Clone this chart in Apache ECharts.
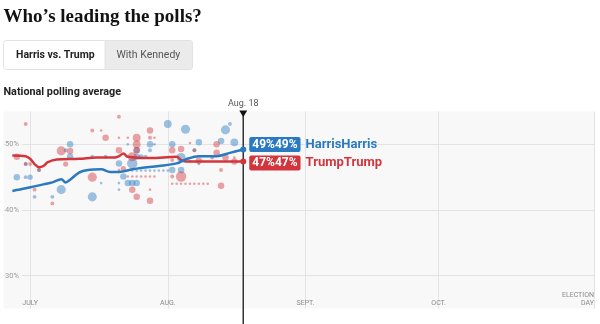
<!DOCTYPE html>
<html><head><meta charset="utf-8">
<script src="https://cdn.jsdelivr.net/npm/echarts@6/dist/echarts.min.js"></script>
<style>html,body{margin:0;padding:0;background:#fff}#c{width:600px;height:324px}</style>
</head><body><div id="c"></div>
<script>
// ---- data ----
const xTickDates = ['2024-07-01','2024-08-01','2024-09-01','2024-10-01','2024-11-05'];
const xTickLabels = ['JULY','AUG.','SEPT.','OCT.','ELECTION\nDAY'];
const yTicks = [30, 40, 50];
const xMinDate = '2024-06-25';
const xMaxDate = '2024-11-05';
const todayDate = '2024-08-18';
const todayLabel = 'Aug. 18';

const harrisAvgDates = ['2024-06-27','2024-06-30','2024-07-02','2024-07-04','2024-07-06','2024-07-08','2024-07-09','2024-07-10','2024-07-12','2024-07-14','2024-07-17','2024-07-19','2024-07-21','2024-07-24','2024-07-26','2024-07-30','2024-08-03','2024-08-05','2024-08-08','2024-08-12','2024-08-15','2024-08-18'];
const harrisAvgValues = [42.9,43.3,43.6,43.9,44.2,44.7,44.2,44.6,45.7,46.1,46.2,45.8,45.8,46.2,46.4,46.7,47.1,47.7,48.2,48.2,48.7,49.2];

const trumpAvgDates = ['2024-06-27','2024-06-30','2024-07-01','2024-07-02','2024-07-03','2024-07-04','2024-07-05','2024-07-07','2024-07-12','2024-07-16','2024-07-20','2024-07-21','2024-07-22','2024-07-23','2024-07-28','2024-08-03','2024-08-04','2024-08-05','2024-08-18'];
const trumpAvgValues = [48.3,48.2,47.8,47.0,46.5,46.7,47.3,47.7,47.8,48.0,48.0,48.2,48.6,48.1,47.9,48.1,47.6,47.4,47.4];

const harrisEndLabel = ['49%49%', 'HarrisHarris'];
const trumpEndLabel = ['47%47%', 'TrumpTrump'];

// individual polls: [date, value, weight]
const harrisPolls = [
 ['2024-06-28',45.0,5],['2024-06-30',45.0,3],['2024-06-30',47.0,3],['2024-07-01',45.0,4],
 ['2024-07-02',42.0,3],['2024-07-03',46.1,3],['2024-07-06',42.0,3],['2024-07-08',43.1,7],
 ['2024-07-09',49.1,3],['2024-07-10',50.0,5],['2024-07-10',48.1,5],['2024-07-15',42.0,7],
 ['2024-07-15',48.1,3],['2024-07-17',44.1,2],['2024-07-18',48.1,3],['2024-07-21',47.1,5],
 ['2024-07-21',44.1,2],['2024-07-21',43.1,2],['2024-07-22',45.1,5],['2024-07-23',50.0,2],
 ['2024-07-23',48.1,2],['2024-07-23',44.1,5],['2024-07-24',47.1,8],['2024-07-24',44.1,5],
 ['2024-07-25',44.1,5],['2024-07-25',49.1,5],['2024-07-25',48.1,5],['2024-07-26',48.1,4],
 ['2024-07-27',48.1,3],['2024-07-28',50.0,5],['2024-07-28',49.1,3],['2024-07-29',50.0,2],
 ['2024-08-01',53.1,6],['2024-08-02',50.0,5],['2024-08-02',46.1,5],['2024-08-04',48.0,7],
 ['2024-08-04',46.1,5],['2024-08-05',52.3,7],['2024-08-07',49.1,3],['2024-08-08',50.3,5],
 ['2024-08-08',47.0,2],['2024-08-13',50.5,5],['2024-08-14',52.2,7],['2024-08-15',53.1,3],
 ['2024-08-16',50.3,6],
 ['2024-07-24',46.0,2],['2024-07-25',46.0,2],['2024-07-26',46.0,2],['2024-07-27',46.0,2],
 ['2024-07-28',46.0,2],['2024-07-29',46.0,2],['2024-07-30',46.0,2],['2024-07-31',46.0,2],
 ['2024-08-01',46.0,2]
];
const trumpPolls = [
 ['2024-06-28',48.1,5],['2024-06-30',53.1,3],['2024-06-30',47.0,3],['2024-07-01',47.0,3],
 ['2024-07-02',43.1,3],['2024-07-03',46.1,3],['2024-07-06',41.0,3],['2024-07-08',49.0,7],
 ['2024-07-09',47.0,4],['2024-07-10',49.0,5],['2024-07-15',52.1,3],['2024-07-15',45.0,7],
 ['2024-07-17',52.1,2],['2024-07-18',51.0,5],['2024-07-21',54.2,3],['2024-07-21',51.0,2],
 ['2024-07-21',49.1,5],['2024-07-21',46.1,2],['2024-07-22',46.3,4],['2024-07-23',51.0,2],
 ['2024-07-24',48.1,7],['2024-07-24',43.1,5],['2024-07-25',51.0,6],['2024-07-25',50.0,6],
 ['2024-07-25',49.1,5],['2024-07-25',42.0,5],['2024-07-28',52.1,5],['2024-07-28',51.0,3],
 ['2024-07-28',43.1,2],['2024-07-28',41.4,5],['2024-07-29',51.0,2],['2024-08-02',49.1,5],
 ['2024-08-02',47.6,3],['2024-08-02',45.1,3],['2024-08-04',49.3,5],['2024-08-04',45.1,8],
 ['2024-08-06',50.2,2],['2024-08-06',47.4,2],['2024-08-07',49.1,3],['2024-08-08',47.5,5],
 ['2024-08-11',48.0,3],['2024-08-12',50.0,5],['2024-08-12',48.7,5],['2024-08-13',46.1,3],
 ['2024-08-13',43.7,5],['2024-08-14',48.0,5],['2024-08-16',48.0,2],['2024-08-16',47.4,5],
 ['2024-07-23',45.1,2],['2024-07-24',45.1,2],['2024-07-25',45.1,2],['2024-07-26',45.1,2],
 ['2024-07-27',45.1,2],['2024-07-28',45.1,2],['2024-07-29',45.1,2],
 ['2024-08-02',44.0,2],['2024-08-03',44.0,2],['2024-08-04',44.0,2],['2024-08-05',44.0,2],
 ['2024-08-06',44.0,2],['2024-08-07',44.0,2],['2024-08-08',44.0,2],['2024-08-09',44.0,2],
 ['2024-08-10',44.0,2]
];

// ---- helpers ----
function dayIndex(s){const p=s.split('-').map(Number);return (Date.UTC(p[0],p[1]-1,p[2])-Date.UTC(2024,6,1))/86400000;}
const BLUE='#2b79c0', RED='#d2363c';
const SANS='Roboto, "Liberation Sans", sans-serif';
const tickVals = xTickDates.map(dayIndex);
const labelMap = {}; tickVals.forEach((v,i)=>labelMap[v]=xTickLabels[i]);

function lineData(dates, vals){
  return dates.map((d,i)=>{
    const item={value:[dayIndex(d), vals[i]]};
    if(i===dates.length-1){item.symbol='circle';item.symbolSize=6;}
    return item;
  });
}
function pollData(arr){return arr.map(p=>[dayIndex(p[0]),p[1],p[2]]);}
function endLabel(color, txt, offY){
  return {show:true, distance:6, offset:[0,offY],
    formatter:'{box|'+txt[0]+'}{name|'+txt[1]+'}',
    rich:{
      box:{backgroundColor:color,color:'#fff',fontFamily:SANS,fontWeight:'bold',fontSize:12,padding:[2,3,1,3],borderRadius:2},
      name:{color:color,fontFamily:SANS,fontWeight:'bold',fontSize:13,padding:[0,0,0,5]}
    }};
}

const chart = echarts.init(document.getElementById('c'), null, {renderer:'canvas'});
const option = {
  animation:false,
  grid:{left:3.5, right:6, top:111.5, bottom:15.5, show:true, backgroundColor:'#f8f8f8', borderWidth:0, containLabel:false},
  xAxis:{type:'value', min:dayIndex(xMinDate), max:dayIndex(xMaxDate),
    axisLine:{show:false},
    axisTick:{show:false, customValues:tickVals},
    splitLine:{show:true, lineStyle:{color:'#e3e3e3', width:1}},
    axisLabel:{show:true, inside:true, margin:1.5, customValues:tickVals, color:'#8a8a8a', fontFamily:SANS, fontSize:7, lineHeight:8,
      alignMaxLabel:'right', formatter:v=>labelMap[v]||''}
  },
  yAxis:{type:'value', min:25, max:55,
    axisLine:{show:false},
    axisTick:{show:false, customValues:yTicks},
    splitLine:{show:true, lineStyle:{color:'#e3e3e3', width:1}},
    axisLabel:{show:true, inside:true, margin:1.5, customValues:yTicks, color:'#9a9a9a', fontFamily:SANS, fontSize:7.5,
      backgroundColor:'#f8f8f8', padding:[1,3,1,0], formatter:'{value}%'}
  },
  series:[
    {type:'scatter', data:pollData(harrisPolls), symbolSize:d=>d[2]*1.3, itemStyle:{color:BLUE, opacity:0.45}, z:2, silent:true},
    {type:'scatter', data:pollData(trumpPolls), symbolSize:d=>d[2]*1.3, itemStyle:{color:RED, opacity:0.45}, z:2, silent:true},
    {type:'line', data:lineData(trumpAvgDates,trumpAvgValues), smooth:0.35, symbol:'none', lineStyle:{color:RED,width:2.5}, itemStyle:{color:RED}, z:5,
      endLabel:endLabel(RED, trumpEndLabel, 1.5)},
    {type:'line', data:lineData(harrisAvgDates,harrisAvgValues), smooth:0.35, symbol:'none', lineStyle:{color:BLUE,width:2.5}, itemStyle:{color:BLUE}, z:5,
      endLabel:endLabel(BLUE, harrisEndLabel, -5)}
  ]
};
chart.setOption(option);

const tx = chart.convertToPixel({xAxisIndex:0}, dayIndex(todayDate));
chart.setOption({graphic:[
  {type:'text', left:3.5, top:7.5, style:{text:'Who\u2019s leading the polls?', fill:'#121212', font:'bold 19px "Liberation Serif", serif'}},
  {type:'rect', shape:{x:3.5,y:40.5,width:189,height:29,r:3}, style:{fill:'#fff', stroke:'#e2e2e2', lineWidth:1}},
  {type:'rect', shape:{x:105,y:40.5,width:87.5,height:29,r:[0,3,3,0]}, style:{fill:'#ebebeb', stroke:'#e2e2e2', lineWidth:1}},
  {type:'text', x:16, y:55, style:{text:'Harris vs. Trump', fill:'#222', font:'bold 10.5px '+SANS, verticalAlign:'middle'}},
  {type:'text', x:116.5, y:55, style:{text:'With Kennedy', fill:'#555', font:'10.5px '+SANS, verticalAlign:'middle'}},
  {type:'text', x:3.5, y:92, style:{text:'National polling average', fill:'#222', font:'bold 10.8px '+SANS, verticalAlign:'middle'}},
  {type:'text', x:tx, y:103.5, style:{text:todayLabel, fill:'#555', font:'9px '+SANS, align:'center', verticalAlign:'middle'}},
  {type:'line', shape:{x1:tx,y1:111,x2:tx,y2:324}, style:{stroke:'#333', lineWidth:1.5}, z:3},
  {type:'polygon', shape:{points:[[tx-4,110.5],[tx+4,110.5],[tx,117]]}, style:{fill:'#111'}, z:4}
]});
</script></body></html>
